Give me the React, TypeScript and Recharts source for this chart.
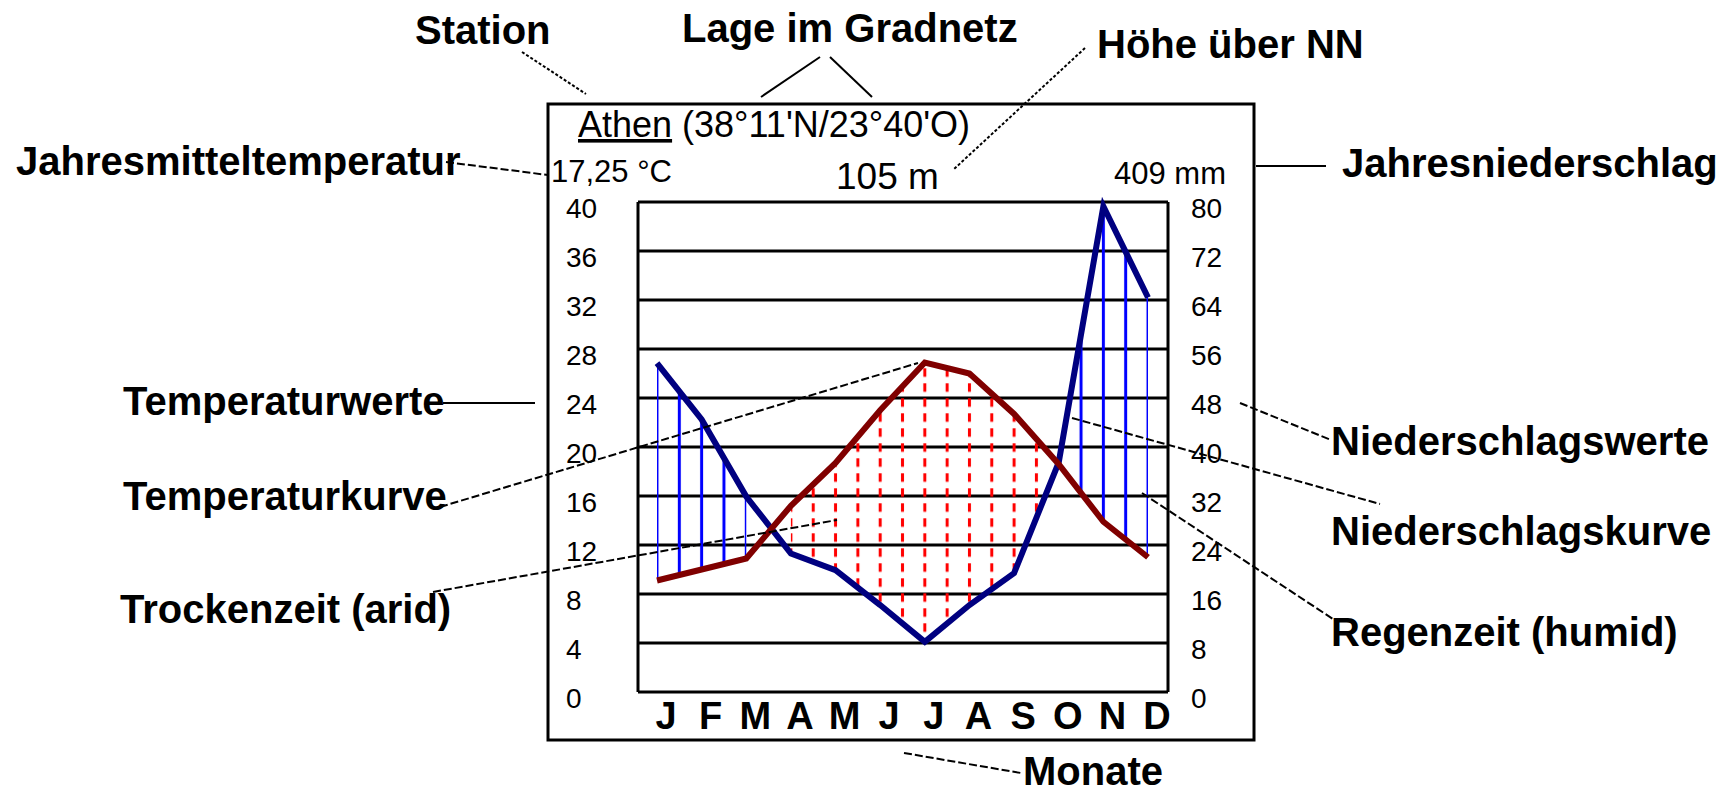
import { ComposedChart, Line, Area, XAxis, YAxis, CartesianGrid } from "recharts";

// Klimadiagramm Athen
const monthLabels = ["J", "F", "M", "A", "M", "J", "J", "A", "S", "O", "N", "D"];
const temperature = [9.1, 10.0, 10.9, 15.2, 18.7, 23.0, 26.9, 26.0, 22.7, 18.6, 13.9, 11.0];
const precipitation = [53.7, 44.5, 31.9, 22.6, 19.9, 14.2, 8.2, 14.2, 19.4, 37.5, 79.3, 64.4];
const tempTicks = [0, 4, 8, 12, 16, 20, 24, 28, 32, 36, 40];
const precipTicks = [0, 8, 16, 24, 32, 40, 48, 56, 64, 72, 80];
const monthTicks = monthLabels.map((_, i) => i);

const W = 1725;
const H = 794;
const PLOT_LEFT = 638;
const PLOT_RIGHT = 1168;
const PAD_L = 19;
const PAD_R = 20;
const HALF_STEP = (PLOT_RIGHT - PLOT_LEFT - PAD_L - PAD_R) / 11 / 2;
const HATCH_X0 = PLOT_LEFT + PAD_L - HALF_STEP / 2;

const FONT = "'Liberation Sans', Arial, sans-serif";

// Walter-Lieth: 10 °C entspricht 20 mm
const rows = monthLabels.map((m, i) => {
  const t = temperature[i];
  const p = precipitation[i];
  const wet = p / 2 >= t;
  const prevDry = i > 0 && temperature[i - 1] > precipitation[i - 1] / 2;
  return {
    idx: i,
    m,
    t,
    p,
    humid: wet ? [t, p / 2] : null,
    arid: !wet || prevDry ? [p / 2, t] : null,
  };
});

const LeftTick = ({ x, y, payload }: any) => (
  <text x={x - 72} y={y + 16} fontSize={28} fontFamily={FONT} fill="#000">
    {payload.value}
  </text>
);

const RightTick = ({ x, y, payload }: any) => (
  <text x={x + 23} y={y + 16} fontSize={28} fontFamily={FONT} fill="#000">
    {payload.value}
  </text>
);

const MonthTick = ({ x, y, payload }: any) => (
  <text x={x + 9} y={y + 37} fontSize={38} fontWeight="bold" fontFamily={FONT} textAnchor="middle" fill="#000">
    {monthLabels[payload.value]}
  </text>
);

const notes = [
  { text: "Station", x: 415, y: 44 },
  { text: "Lage im Gradnetz", x: 682, y: 42 },
  { text: "Höhe über NN", x: 1097, y: 58 },
  { text: "Jahresmitteltemperatur", x: 16, y: 175 },
  { text: "Jahresniederschlag", x: 1342, y: 177 },
  { text: "Temperaturwerte", x: 123, y: 415 },
  { text: "Temperaturkurve", x: 123, y: 510 },
  { text: "Trockenzeit (arid)", x: 120, y: 623 },
  { text: "Niederschlagswerte", x: 1331, y: 455 },
  { text: "Niederschlagskurve", x: 1331, y: 545 },
  { text: "Regenzeit (humid)", x: 1331, y: 646 },
  { text: "Monate", x: 1023, y: 785 },
];

const leaders = [
  { x1: 522, y1: 52, x2: 586, y2: 94, dash: "3 2" },
  { x1: 820, y1: 57, x2: 761, y2: 97, dash: "" },
  { x1: 830, y1: 57, x2: 872, y2: 97, dash: "" },
  { x1: 1085, y1: 48, x2: 953, y2: 170, dash: "3 2" },
  { x1: 446, y1: 162, x2: 548, y2: 175, dash: "8 3" },
  { x1: 1256, y1: 166, x2: 1326, y2: 166, dash: "" },
  { x1: 443, y1: 403, x2: 535, y2: 403, dash: "" },
  { x1: 440, y1: 507, x2: 918, y2: 363, dash: "8 3" },
  { x1: 433, y1: 592, x2: 837, y2: 520, dash: "8 3" },
  { x1: 904, y1: 753, x2: 1021, y2: 773, dash: "8 3" },
  { x1: 1240, y1: 403, x2: 1331, y2: 440, dash: "8 3" },
  { x1: 1072, y1: 418, x2: 1380, y2: 504, dash: "8 3" },
  { x1: 1142, y1: 493, x2: 1336, y2: 621, dash: "8 3" },
];

export default function App() {
  return (
    <div style={{ position: "relative", width: W, height: H, background: "#fff" }}>
      <style>{"body{margin:0}"}</style>
      <svg width={0} height={0} style={{ position: "absolute" }}>
        <defs>
          <pattern id="humidHatch" patternUnits="userSpaceOnUse" x={HATCH_X0} y={0} width={HALF_STEP} height={20}>
            <line x1={HALF_STEP / 2} x2={HALF_STEP / 2} y1={0} y2={20} stroke="#0000ff" strokeWidth={3} />
          </pattern>
          <pattern id="aridHatch" patternUnits="userSpaceOnUse" x={HATCH_X0} y={8.3} width={HALF_STEP} height={15}>
            <line x1={HALF_STEP / 2} x2={HALF_STEP / 2} y1={0} y2={8.5} stroke="#ff0000" strokeWidth={3} />
          </pattern>
        </defs>
      </svg>
      <ComposedChart width={W} height={H} data={rows} margin={{ top: 202, right: 497, bottom: 62, left: 566 }}>
        <CartesianGrid vertical={false} stroke="#000" strokeWidth={3} />
        <XAxis
          dataKey="idx"
          type="number"
          domain={[0, 11]}
          ticks={monthTicks}
          padding={{ left: PAD_L, right: PAD_R }}
          axisLine={false}
          tickLine={false}
          tickSize={0}
          tickMargin={0}
          interval={0}
          height={40}
          tick={<MonthTick />}
        />
        <YAxis
          domain={[0, 40]}
          ticks={tempTicks}
          width={72}
          axisLine={{ stroke: "#000", strokeWidth: 3 }}
          tickLine={false}
          tickSize={0}
          tickMargin={0}
          tick={<LeftTick />}
        />
        <YAxis
          yAxisId="p"
          orientation="right"
          domain={[0, 80]}
          ticks={precipTicks}
          width={60}
          axisLine={{ stroke: "#000", strokeWidth: 3 }}
          tickLine={false}
          tickSize={0}
          tickMargin={0}
          tick={<RightTick />}
        />
        <Area type="linear" dataKey="humid" stroke="none" fill="url(#humidHatch)" fillOpacity={1} isAnimationActive={false} activeDot={false} />
        <Area type="linear" dataKey="arid" stroke="none" fill="url(#aridHatch)" fillOpacity={1} isAnimationActive={false} activeDot={false} />
        <Line type="linear" dataKey="p" yAxisId="p" stroke="#000080" strokeWidth={6} dot={false} activeDot={false} isAnimationActive={false} />
        <Line type="linear" dataKey="t" stroke="#800000" strokeWidth={6} dot={false} activeDot={false} isAnimationActive={false} />
      </ComposedChart>
      <svg width={W} height={H} style={{ position: "absolute", left: 0, top: 0, pointerEvents: "none" }}>
        <rect x={548} y={104} width={706} height={636} fill="none" stroke="#000" strokeWidth={3} />
        <text x={578} y={137} fontSize={36} fontFamily={FONT} fill="#000">
          <tspan textDecoration="underline">Athen</tspan> (38°11'N/23°40'O)
        </text>
        <text x={551} y={182} fontSize={31} fontFamily={FONT} fill="#000">17,25 °C</text>
        <text x={836} y={189} fontSize={37} fontFamily={FONT} fill="#000">105 m</text>
        <text x={1114} y={184} fontSize={31} fontFamily={FONT} fill="#000">409 mm</text>
        {leaders.map((l, i) => (
          <line key={i} x1={l.x1} y1={l.y1} x2={l.x2} y2={l.y2} stroke="#000" strokeWidth={2} strokeDasharray={l.dash || undefined} />
        ))}
        {notes.map((n) => (
          <text key={n.text} x={n.x} y={n.y} fontSize={40} fontWeight="bold" fontFamily={FONT} fill="#000">
            {n.text}
          </text>
        ))}
      </svg>
    </div>
  );
}
